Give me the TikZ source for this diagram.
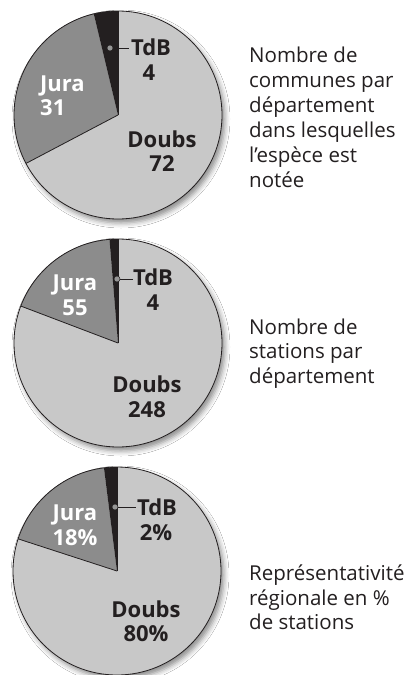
\documentclass[tikz,border=0pt]{standalone}
\usepackage{fontspec}
\setmainfont{Open Sans}
\usetikzlibrary{shadows.blur}
\definecolor{doubs}{RGB}{200,200,200}
\definecolor{jura}{RGB}{140,140,140}
\definecolor{tdb}{RGB}{35,31,32}
\definecolor{ink}{RGB}{35,31,32}
\definecolor{dotgray}{RGB}{150,150,150}
\newcommand\mypie[4]{%
  \node[circle, minimum size=208pt, inner sep=0pt, fill=doubs,
        blur shadow={shadow xshift=3pt, shadow yshift=-4pt, shadow blur radius=5pt, shadow opacity=45}] (#1) at #2 {};
  \fill[jura] (#1.center) -- ++(#3:104) arc[start angle=#3, end angle=#4, radius=104] -- cycle;
  \fill[tdb] (#1.center) -- ++(90:104) arc[start angle=90, end angle=#3, radius=104] -- cycle;
  \draw[wedge] (#1.center) -- ++(#4:104);
  \draw[wedge] (#1.center) -- ++(90:104);
  \draw[wedge] (#1.center) circle[radius=104];
}
\begin{document}
\begin{tikzpicture}[x=1pt,y=1pt,
  lab/.style={font=\fontsize{22}{26}\selectfont\bfseries, text=ink, inner sep=0pt, anchor=base},
  jlab/.style={lab, text=white},
  txt/.style={font=\fontsize{20.5}{25}\selectfont, text=ink, inner sep=0pt, anchor=base west},
  wedge/.style={draw=ink, line width=0.8pt, line join=round},
  dot/.style={circle, fill=dotgray, draw=ink, line width=0.5pt, minimum size=6pt, inner sep=0pt},
  lead/.style={draw=ink, line width=0.6pt}]
\useasboundingbox[fill=white] (0,0) rectangle (412,-675);

% ---- pie 1
\mypie{p1}{(118,-115)}{103.46}{207.76}
\node[dot] (d1) at (110,-48) {};
\coordinate (e1) at (129,-48);
\draw[lead] (d1.east) -- (e1);
\node[lab] (t1a) at (151,-55) {TdB};
\node[lab] (t1b) at (149,-80) {4};
\node[jlab, anchor=base west] (j1a) at (40,-91) {Jura};
\node[jlab, anchor=base west] (j1b) at (40,-115) {31};
\node[lab] (b1a) at (162,-147) {Doubs};
\node[lab] (b1b) at (162,-171) {72};

% ---- pie 2
\mypie{p2}{(118,-343)}{94.69}{159.19}
\node[dot] (d2) at (117,-279) {};
\coordinate (e2) at (133,-279);
\draw[lead] (d2.east) -- (e2);
\node[lab] (t2a) at (153,-285) {TdB};
\node[lab] (t2b) at (153,-310) {4};
\node[jlab] (j2a) at (75,-290) {Jura};
\node[jlab] (j2b) at (75,-315) {55};
\node[lab] (b2a) at (147,-392) {Doubs};
\node[lab] (b2b) at (147,-417) {248};

% ---- pie 3
\mypie{p3}{(117,-571)}{97.2}{162}
\node[dot] (d3) at (115,-507) {};
\coordinate (e3) at (136,-507);
\draw[lead] (d3.east) -- (e3);
\node[lab] (t3a) at (157,-515) {TdB};
\node[lab] (t3b) at (156,-540) {2\%};
\node[jlab] (j3a) at (75,-520) {Jura};
\node[jlab] (j3b) at (75,-545) {18\%};
\node[lab] (b3a) at (146,-617) {Doubs};
\node[lab] (b3b) at (146,-641) {80\%};

% ---- captions
\node[txt] (c1a) at (249,-62) {Nombre de};
\node[txt] (c1b) at (249,-87) {communes par};
\node[txt] (c1c) at (249,-112) {département};
\node[txt] (c1d) at (249,-137) {dans lesquelles};
\node[txt] (c1e) at (249,-162) {l’espèce est};
\node[txt] (c1f) at (249,-187) {notée};

\node[txt] (c2a) at (249,-334) {Nombre de};
\node[txt] (c2b) at (249,-358) {stations par};
\node[txt] (c2c) at (249,-383) {département};

\node[txt] (c3a) at (249,-580) {Représentativité};
\node[txt] (c3b) at (249,-605) {régionale en \%};
\node[txt] (c3c) at (249,-629) {de stations};
\end{tikzpicture}
\end{document}
